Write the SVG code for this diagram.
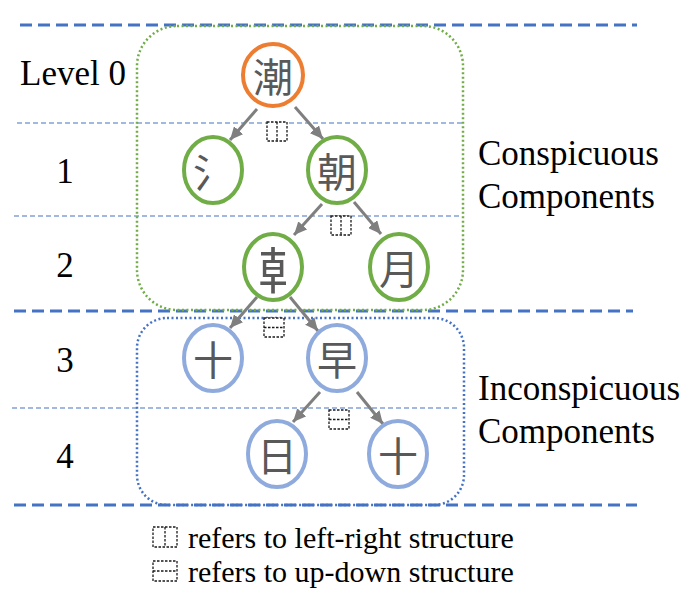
<svg xmlns="http://www.w3.org/2000/svg" width="693" height="600" viewBox="0 0 693 600">
<style>
.thick{stroke:#4472C4;stroke-width:3;stroke-dasharray:12 6;fill:none}
.thin{stroke:#4472C4;stroke-width:1.2;stroke-dasharray:5 3;fill:none}
.lbl{font-family:"Liberation Serif","Times New Roman",serif;font-size:35px;fill:#000}
.leg{font-family:"Liberation Serif","Times New Roman",serif;font-size:30px;fill:#000}
.ch{font-family:"Noto Sans CJK SC","Noto Sans CJK JP",sans-serif;font-size:40px;fill:#595959;text-anchor:middle;dominant-baseline:central}
.ib{fill:none;stroke:#1a1a1a;stroke-width:1.3;stroke-dasharray:2.5 1.5}
.or{fill:#fff;stroke:#ED7D31;stroke-width:4}
.gr{fill:#fff;stroke:#70AD47;stroke-width:4}
.bl{fill:#fff;stroke:#8FAADC;stroke-width:4}
.arr{stroke:#7F7F7F;stroke-width:3;fill:none;marker-end:url(#ah)}
</style>
<defs>
<marker id="ah" markerUnits="userSpaceOnUse" markerWidth="14" markerHeight="12" refX="13" refY="6" orient="auto">
<path d="M0,0 L13,6 L0,12 z" fill="#7F7F7F"/>
</marker>
<g id="lr"><rect x="-10" y="-10" width="20" height="19" fill="#fff"/><rect class="ib" x="-10" y="-10" width="20" height="19"/><line class="ib" x1="0" y1="-10" x2="0" y2="9"/></g>
<g id="ud"><rect x="-10" y="-10" width="20" height="19" fill="#fff"/><rect class="ib" x="-10" y="-10" width="20" height="19"/><line class="ib" x1="-10" y1="-0.5" x2="10" y2="-0.5"/></g>
<g id="lrL"><rect class="ib" x="-12" y="-10" width="24" height="20"/><line class="ib" x1="0" y1="-10" x2="0" y2="10"/></g>
<g id="udL"><rect class="ib" x="-12" y="-10" width="24" height="20"/><line class="ib" x1="-12" y1="0" x2="12" y2="0"/></g>
</defs>
<rect width="693" height="600" fill="#fff"/>
<g id="grid">
<line class="thick" x1="20" y1="25" x2="637" y2="25"/>
<line class="thick" x1="14" y1="311" x2="633" y2="311"/>
<line class="thick" x1="14" y1="505" x2="637" y2="505"/>
<line class="thin" x1="17" y1="123" x2="463" y2="123"/>
<line class="thin" x1="14" y1="216" x2="462" y2="216"/>
<line class="thin" x1="12" y1="408" x2="460" y2="408"/>
</g>
<g id="groups">
<rect x="137" y="26" width="326" height="284" rx="40" fill="none" stroke="#70AD47" stroke-width="2.5" stroke-dasharray="2 2.5"/>
<rect x="137" y="318" width="327" height="187" rx="30" fill="none" stroke="#4472C4" stroke-width="2.5" stroke-dasharray="2 2.5"/>
</g>
<g id="levels">
<text class="lbl" x="20" y="85">Level 0</text>
<text class="lbl" x="65" y="183" text-anchor="middle">1</text>
<text class="lbl" x="65" y="277" text-anchor="middle">2</text>
<text class="lbl" x="65" y="372" text-anchor="middle">3</text>
<text class="lbl" x="65" y="468" text-anchor="middle">4</text>
<text class="lbl" x="478" y="165">Conspicuous</text>
<text class="lbl" x="478" y="208">Components</text>
<text class="lbl" x="478" y="400">Inconspicuous</text>
<text class="lbl" x="478" y="443">Components</text>
</g>
<g id="connectors">
<line class="arr" x1="257" y1="109" x2="230" y2="140"/>
<line class="arr" x1="295" y1="107" x2="323" y2="139"/>
<line class="arr" x1="322" y1="204" x2="294" y2="235"/>
<line class="arr" x1="354" y1="202" x2="381" y2="234"/>
<line class="arr" x1="257" y1="297" x2="230" y2="328"/>
<line class="arr" x1="290" y1="297" x2="318" y2="331"/>
<line class="arr" x1="320" y1="392" x2="293" y2="422"/>
<line class="arr" x1="357" y1="392" x2="383" y2="424"/>
<use href="#lr" x="277" y="132"/>
<use href="#lr" x="341" y="226"/>
<use href="#ud" x="274" y="328"/>
<use href="#ud" x="339" y="420"/>
</g>
<g id="n-chao"><ellipse class="or" cx="273" cy="75" rx="30" ry="31"/><text class="ch" x="273" y="75">潮</text></g>
<g id="n-shui"><ellipse class="gr" cx="213" cy="170" rx="29" ry="33"/><text class="ch" x="213" y="170">氵</text></g>
<g id="n-zhao"><ellipse class="gr" cx="337" cy="170" rx="29" ry="33"/><text class="ch" x="337" y="170">朝</text></g>
<g id="n-zhang"><ellipse class="gr" cx="273" cy="267" rx="29" ry="33"/><text class="ch" x="273" y="267" style="font-size:50px">𠦝</text></g>
<g id="n-yue"><ellipse class="gr" cx="399" cy="267" rx="29" ry="33"/><text class="ch" x="399" y="267">月</text></g>
<g id="n-shi1"><ellipse class="bl" cx="213" cy="358" rx="29" ry="33"/><text class="ch" x="213" y="358">十</text></g>
<g id="n-zao"><ellipse class="bl" cx="337" cy="358" rx="29" ry="33"/><text class="ch" x="337" y="358">早</text></g>
<g id="n-ri"><ellipse class="bl" cx="277" cy="454" rx="29" ry="33"/><text class="ch" x="277" y="454">日</text></g>
<g id="n-shi2"><ellipse class="bl" cx="398" cy="454" rx="29" ry="33"/><text class="ch" x="398" y="454">十</text></g>
<g id="legend">
<use href="#lrL" x="165" y="537"/>
<text class="leg" x="188" y="548">refers to left-right structure</text>
<use href="#udL" x="165" y="571"/>
<text class="leg" x="188" y="582">refers to up-down structure</text>
</g>
</svg>
